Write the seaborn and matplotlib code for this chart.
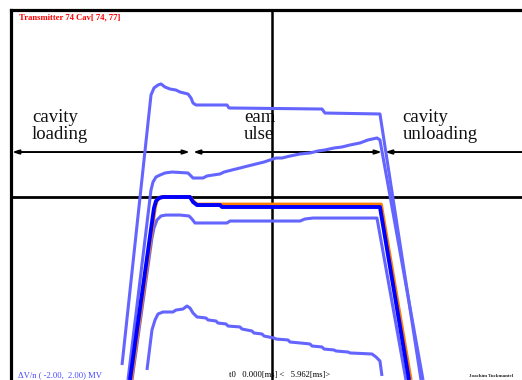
import matplotlib
matplotlib.use("Agg")
import matplotlib.pyplot as plt
import seaborn as sns
import pandas as pd

sns.set_style("white")
plt.rcParams["font.family"] = ["Liberation Serif", "DejaVu Serif"]

# ---- axis ranges -------------------------------------------------------
T_START, T_END = 0.000, 5.962      # ms
V_MIN, V_MAX = -2.00, 2.00         # MV per cavity
T_CENTER = 2.981

# ---- cavity voltage traces (time in ms, dV/n in MV) --------------------
t_top = [1.268, 1.599, 1.633, 1.679, 1.713, 1.759, 1.816, 1.884, 1.930, 1.976,
         2.021, 2.056, 2.079, 2.113, 2.467, 2.490, 3.552, 3.586, 4.214, 4.683]
v_top = [-1.797, 1.091, 1.166, 1.198, 1.209, 1.176, 1.155, 1.144, 1.123, 1.112,
         1.102, 1.059, 1.005, 0.984, 0.984, 0.952, 0.941, 0.898, 0.888, -1.957]

t_rise = [1.336, 1.599, 1.622, 1.656, 1.702, 1.759, 1.839, 2.021, 2.056, 2.079,
          2.193, 2.239, 2.307, 2.387, 2.433, 2.524, 2.615, 2.707, 2.798, 2.890,
          2.958, 3.027, 3.095, 3.186, 3.301, 3.415, 3.506, 3.586, 3.689, 3.780,
          3.872, 3.986, 4.077, 4.180, 4.214, 4.706]
v_rise = [-1.957, 0.075, 0.160, 0.214, 0.235, 0.257, 0.267, 0.257, 0.225, 0.203,
          0.203, 0.225, 0.235, 0.246, 0.267, 0.289, 0.310, 0.332, 0.353, 0.374,
          0.396, 0.417, 0.417, 0.438, 0.460, 0.471, 0.492, 0.503, 0.524, 0.535,
          0.556, 0.578, 0.610, 0.631, 0.610, -1.957]

t_sum = [1.359, 1.633, 1.656, 1.690, 1.736, 2.044, 2.079, 2.124, 2.387, 2.410,
         4.214, 4.546]
v_sum = [-1.957, -0.118, -0.043, -0.011, 0.000, 0.000, -0.053, -0.086, -0.086,
         -0.107, -0.107, -1.957]

t_ref = [1.371, 1.645, 1.667, 1.702, 1.747, 2.044, 2.079, 2.124, 4.226, 4.566]
v_ref = [-1.957, -0.107, -0.032, -0.005, 0.000, 0.000, -0.043, -0.080, -0.080,
         -1.957]

t_flat = [1.382, 1.610, 1.633, 1.667, 1.713, 1.770, 1.930, 2.033, 2.067, 2.101,
          2.467, 2.501, 3.301, 3.358, 3.449, 4.180, 4.511]
v_flat = [-1.957, -0.438, -0.332, -0.246, -0.203, -0.193, -0.193, -0.203, -0.235,
          -0.278, -0.278, -0.257, -0.257, -0.235, -0.225, -0.225, -1.957]

t_low = [1.553, 1.610, 1.645, 1.679, 1.736, 1.850, 1.884, 1.964, 2.010, 2.044,
         2.079, 2.124, 2.227, 2.250, 2.341, 2.364, 2.456, 2.478, 2.615, 2.638,
         2.752, 2.775, 2.867, 2.890, 3.004, 3.027, 3.164, 3.186, 3.301, 3.415,
         3.438, 3.552, 3.575, 3.689, 3.712, 3.849, 3.872, 4.123, 4.169, 4.214,
         4.237]
v_low = [-1.850, -1.422, -1.315, -1.251, -1.230, -1.230, -1.209, -1.198, -1.166,
         -1.187, -1.241, -1.283, -1.294, -1.315, -1.326, -1.348, -1.358, -1.380,
         -1.390, -1.412, -1.433, -1.455, -1.465, -1.487, -1.508, -1.519, -1.529,
         -1.551, -1.561, -1.572, -1.594, -1.604, -1.626, -1.636, -1.647, -1.658,
         -1.668, -1.679, -1.711, -1.754, -1.914]

# ---- phase markers ------------------------------------------------------
phase_level = 0.481
phase_bounds = [(0.011, 2.044), (2.079, 4.237), (4.271, 6.100)]
phase_labels = ["cavity\nloading", "eam\nulse", "cavity\nunloading"]
phase_label_t = [0.240, 2.661, 4.474]
phase_label_v = 0.617          # baseline of the lower text line

title_text = "Transmitter 74 Cav[ 74, 77]"
range_text = "\u0394V/n ( -2.00,  2.00) MV"
time_text = "t0   0.000[ms] <   5.962[ms]>"
author_text = "Joachim Tuckmantel"

LIGHT = "#6464ff"
BLUE = "#0000ff"
ORANGE = "#ff8000"

W, H = 522, 380
fig = plt.figure(figsize=(W / 100, H / 100), dpi=100)
ax = fig.add_axes([11 / W, -4 / H, 522 / W, 374 / H])
ax.set_xlim(T_START, T_END)
ax.set_ylim(V_MIN, V_MAX)
ax.set_xticks([])
ax.set_yticks([])
for side in ("right", "bottom"):
    ax.spines[side].set_visible(False)
for side in ("top", "left"):
    ax.spines[side].set_linewidth(2.3)
    ax.spines[side].set_color("black")
    ax.spines[side].set_zorder(6)

# crosshair
ax.axhline(0.0, color="black", lw=2.0, zorder=1.5)
ax.axvline(T_CENTER, color="black", lw=1.8, zorder=1.5)

# phase arrows
for a, b in phase_bounds:
    ax.annotate("", xy=(b, phase_level), xytext=(a, phase_level),
                arrowprops=dict(arrowstyle="<|-|>,head_length=0.38,head_width=0.12",
                                color="black", lw=1.4, shrinkA=0, shrinkB=0),
                zorder=1.6, annotation_clip=False)

for lab, tx in zip(phase_labels, phase_label_t):
    ax.text(tx, phase_label_v, lab, fontsize=13.5, linespacing=1.02,
            va="baseline", ha="left", color="#111111", zorder=1)

traces = [
    (t_top, v_top, LIGHT, 2.2),
    (t_rise, v_rise, LIGHT, 2.2),
    (t_flat, v_flat, LIGHT, 2.2),
    (t_low, v_low, LIGHT, 2.2),
    (t_ref, v_ref, ORANGE, 2.7),
    (t_sum, v_sum, BLUE, 2.8),
]
for i, (tt, vv, col, lw) in enumerate(traces):
    df = pd.DataFrame({"t": tt, "v": vv})
    sns.lineplot(data=df, x="t", y="v", sort=False, estimator=None, color=col,
                 lw=lw, ax=ax, zorder=3 + i * 0.1, solid_joinstyle="round",
                 solid_capstyle="butt")
ax.set_xlabel("")
ax.set_ylabel("")

fig.text(19 / W, 1 - 19.5 / H, title_text, color="#ff0000", fontsize=6.2,
         fontweight="bold", ha="left", va="baseline")
fig.text(18 / W, 1 - 377 / H, range_text, color="#4848ff", fontsize=6.2,
         ha="left", va="baseline", zorder=1)
fig.text(229 / W, 1 - 377 / H, time_text, color="black", fontsize=6.2,
         ha="left", va="baseline", zorder=0.5)
fig.text(469 / W, 1 - 377 / H, author_text, color="#222222", fontsize=3.6,
         fontweight="bold", ha="left", va="baseline")

fig.savefig("out.png", dpi=100)
